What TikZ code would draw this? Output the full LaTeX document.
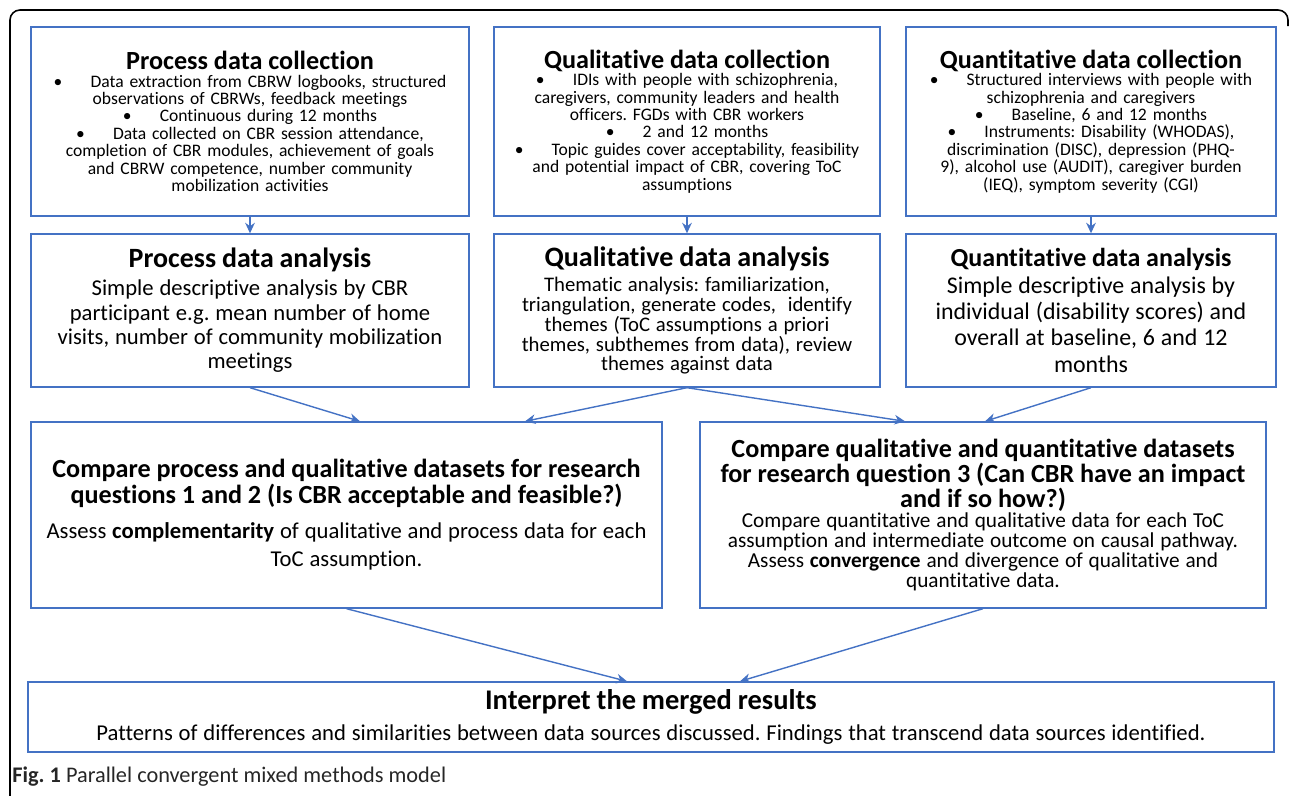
\documentclass[tikz,border=0pt]{standalone}
\usepackage{fontspec}
\setmainfont{Carlito}[Ligatures={NoCommon}]
\usetikzlibrary{arrows.meta}
\definecolor{boxblue}{HTML}{4472C4}
\newcommand{\bul}{\textbullet\hspace{1.6em}}
\frenchspacing

\begin{document}
\begin{tikzpicture}[x=0.02cm,y=-0.02cm,
    box/.style={draw=boxblue,line width=0.8pt,align=center,inner xsep=0.05cm,inner ysep=0pt},
    link/.style={boxblue,line width=0.8pt,-{Stealth[length=6pt,width=5.5pt]}}]
    \useasboundingbox (0,0) rectangle (1292,795);
    \draw[line width=0.9pt,rounded corners=0.2cm] (10,796) -- (10,10) -- (1288,10) -- (1288,26);

    % collection
    \node[box,text width=8.66cm,minimum height=3.78cm] (pdc) at (250,121.5) {%
        {\fontsize{14.9}{17}\selectfont\bfseries Process data collection\par}
        {\fontsize{10}{9.9}\selectfont
        \bul Data extraction from CBRW logbooks, structured\\
        observations of CBRWs, feedback meetings\\
        \bul Continuous during 12 months\\
        \bul Data collected on CBR session attendance,\\
        completion of CBR modules, achievement of goals\\
        and CBRW competence, number community\\
        mobilization activities\par}};
    \node[box,text width=7.62cm,minimum height=3.78cm] (qldc) at (687,121.5) {%
        {\fontsize{14.9}{17}\selectfont\bfseries Qualitative data collection\par}
        {\fontsize{10}{9.9}\selectfont
        \bul IDIs with people with schizophrenia,\\
        caregivers, community leaders and health\\
        officers. FGDs with CBR workers\\
        \bul 2 and 12 months\\
        \bul Topic guides cover acceptability, feasibility\\
        and potential impact of CBR, covering ToC\\
        assumptions\par}};
    \node[box,text width=7.30cm,minimum height=3.78cm] (qndc) at (1091,121.5) {%
        {\fontsize{14.9}{17}\selectfont\bfseries Quantitative data collection\par}
        {\fontsize{10}{9.9}\selectfont
        \bul Structured interviews with people with\\
        schizophrenia and caregivers\\
        \bul Baseline, 6 and 12 months\\
        \bul Instruments: Disability (WHODAS),\\
        discrimination (DISC), depression (PHQ-\\
        9), alcohol use (AUDIT), caregiver burden\\
        (IEQ), symptom severity (CGI)\par}};

    % analysis
    \node[box,text width=8.66cm,minimum height=3.06cm] (pda) at (250,310.5) {%
        {\fontsize{15.9}{17}\selectfont\bfseries Process data analysis\par}
        \vspace{2pt}
        {\fontsize{12.9}{13.9}\selectfont
        Simple descriptive analysis by CBR\\
        participant e.g. mean number of home\\
        visits, number of community mobilization\\
        meetings\par}};
    \node[box,text width=7.62cm,minimum height=3.06cm] (qlda) at (687,310.5) {%
        {\fontsize{16}{17}\selectfont\bfseries Qualitative data analysis\par}
        \vspace{3pt}
        {\fontsize{11.8}{11.3}\selectfont
        Thematic analysis: familiarization,\\
        triangulation, generate codes,~ identify\\
        themes (ToC assumptions a priori\\
        themes, subthemes from data), review\\
        themes against data\par}};
    \node[box,text width=7.30cm,minimum height=3.06cm] (qnda) at (1091,310.5) {%
        {\fontsize{14.8}{17}\selectfont\bfseries Quantitative data analysis\par}
        {\fontsize{13.6}{15}\selectfont
        Simple descriptive analysis by\\
        individual (disability scores) and\\
        overall at baseline, 6 and 12\\
        months\par}};

    % comparison
    \node[box,text width=12.52cm,minimum height=3.72cm] (cmpa) at (346.5,515) {%
        {\fontsize{14.9}{14.8}\selectfont\bfseries
        Compare process and qualitative datasets for research\\
        questions 1 and 2 (Is CBR acceptable and feasible?)\par}
        \vspace{3pt}
        {\fontsize{12.9}{16.5}\selectfont
        Assess \textbf{complementarity} of qualitative and process data for each\\
        ToC assumption.\par}};
    \node[box,text width=11.22cm,minimum height=3.72cm] (cmpb) at (983,515) {%
        {\fontsize{14.9}{14.2}\selectfont\bfseries
        Compare qualitative and quantitative datasets\\
        for research question 3 (Can CBR have an impact\\
        and if so how?)\par}
        {\fontsize{12.1}{11.3}\selectfont
        Compare quantitative and qualitative data for each ToC\\
        assumption and intermediate outcome on causal pathway.\\
        Assess \textbf{convergence} and divergence of qualitative and\\
        quantitative data.\par}};

    % merge
    \node[box,text width=24.82cm,minimum height=1.4cm] (merge) at (651,717) {%
        {\fontsize{16.2}{17}\selectfont\bfseries Interpret the merged results\par}
        {\fontsize{12.9}{17.5}\selectfont
        Patterns of differences and similarities between data sources discussed. Findings that transcend data sources identified.\par}};

    \node[anchor=west,inner sep=0pt,text=black!85,font=\fontsize{12.7}{14}\selectfont] (cap) at (12,777)
        {\textbf{Fig. 1} Parallel convergent mixed methods model};

    \draw[link] (pdc) -- (pda);
    \draw[link] (qldc) -- (qlda);
    \draw[link] (qndc) -- (qnda);
    \draw[link] (pda.south) -- ([xshift=0.27cm]cmpa.north);
    \draw[link] (qlda.south) -- ([xshift=3.57cm]cmpa.north);
    \draw[link] (qlda.south) -- ([xshift=-1.56cm]cmpb.north);
    \draw[link] (qnda.south) -- ([xshift=0.04cm]cmpb.north);
    \draw[link] (cmpa.south) -- ([xshift=-0.48cm]merge.north);
    \draw[link] (cmpb.south) -- ([xshift=1.78cm]merge.north);
\end{tikzpicture}
\end{document}
